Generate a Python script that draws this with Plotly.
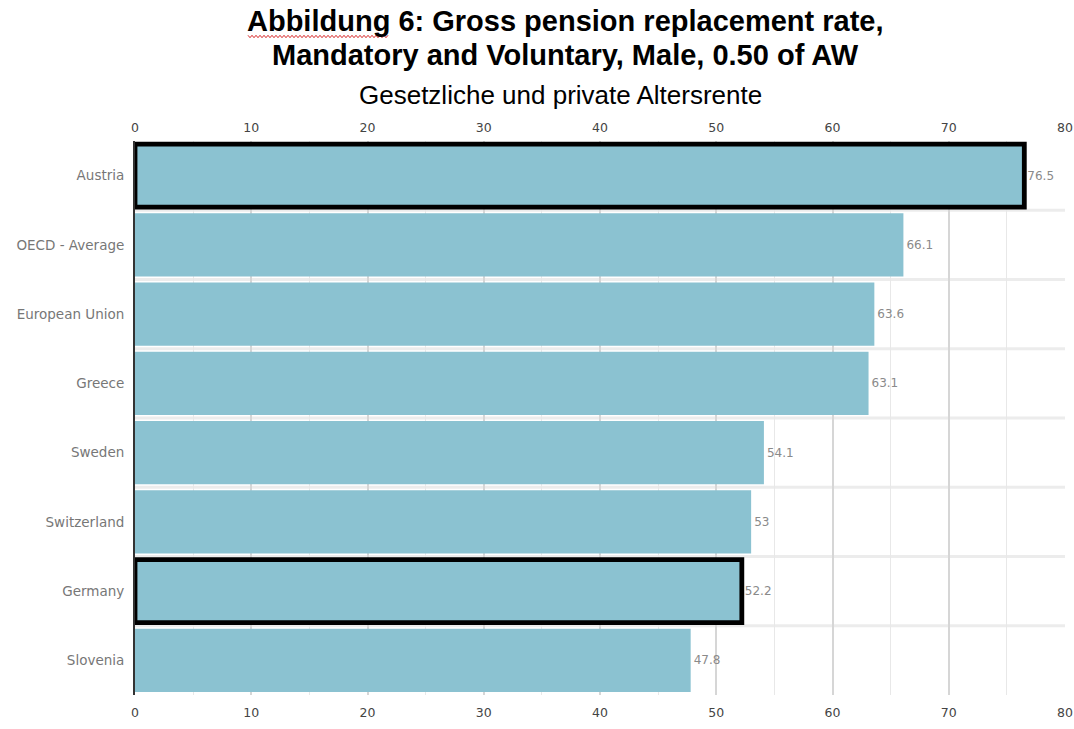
import plotly.graph_objects as go

countries = ["Austria", "OECD - Average", "European Union", "Greece",
             "Sweden", "Switzerland", "Germany", "Slovenia"]
rates = [76.5, 66.1, 63.6, 63.1, 54.1, 53.0, 52.2, 47.8]
highlighted = ["Austria", "Germany"]
x_ticks = [0, 10, 20, 30, 40, 50, 60, 70, 80]

title_line1 = "Abbildung 6: Gross pension replacement rate,"
title_line2 = "Mandatory and Voluntary, Male, 0.50 of AW"
subtitle = "Gesetzliche und private Altersrente"

W, H = 1074, 729
ML, MR, MT, MB = 135, 9, 141, 34
BAR_COLOR = "rgb(139,194,209)"

positions = list(range(len(countries)))
outline = [4.8 if c in highlighted else 0 for c in countries]
labels = [f"{v:g}" for v in rates]


def px_to_paper(px, py):
    """Convert page pixel coordinates to paper coordinates."""
    return ((px - ML) / (W - ML - MR), 1 + (MT - py) / (H - MT - MB))


fig = go.Figure()
fig.add_trace(go.Bar(
    x=rates, y=positions, orientation="h",
    marker=dict(color=BAR_COLOR, line=dict(color="black", width=outline)),
    text=labels, textposition="outside", cliponaxis=False,
    textfont=dict(family="DejaVu Sans", size=12, color="#8a8a8a"),
    hoverinfo="skip",
))
# invisible trace so the top axis is drawn with the same scale
fig.add_trace(go.Scatter(x=[0, 80], y=[0, 0], xaxis="x2", mode="markers",
                         marker=dict(opacity=0), hoverinfo="skip", showlegend=False))

# light separators between the category bands
for k in range(len(countries) - 1):
    fig.add_shape(type="line", xref="paper", x0=0, x1=1, yref="y",
                  y0=k + 0.5, y1=k + 0.5, layer="below",
                  line=dict(color="#ececec", width=3))

# wavy red underline beneath the word "Abbildung"
pts = []
for i, px in enumerate(range(248, 390, 2)):
    py = 36.5 + (1 if i % 2 else -1) * 1.2
    pts.append(px_to_paper(px, py))
path = "M " + " L ".join(f"{x:.5f},{y:.5f}" for x, y in pts)
fig.add_shape(type="path", path=path, xref="paper", yref="paper",
              line=dict(color="rgb(215,40,40)", width=1))

axis_common = dict(
    range=[0, 80], tickvals=x_ticks, showgrid=True,
    gridcolor="#d6d6d6", gridwidth=1.5, zeroline=False,
    tickfont=dict(family="DejaVu Sans", size=12.5, color="#444"),
    minor=dict(dtick=5, tick0=0, showgrid=True, gridcolor="#e8e8e8", gridwidth=1),
)

tx, _ = px_to_paper(565, 0)
sx, _ = px_to_paper(560, 0)

fig.update_layout(
    width=W, height=H,
    margin=dict(l=ML, r=MR, t=MT, b=MB, autoexpand=False),
    paper_bgcolor="white", plot_bgcolor="white",
    showlegend=False, bargap=0.09,
    xaxis=dict(**axis_common, side="bottom", ticklabelstandoff=8),
    xaxis2=dict(**axis_common, overlaying="x", side="top", matches="x",
                ticklabelstandoff=6),
    yaxis=dict(tickvals=positions, ticktext=countries, autorange="reversed",
               showgrid=False, zeroline=False,
               showline=True, linecolor="#333", linewidth=2,
               ticks="", ticklabelstandoff=6,
               tickfont=dict(family="DejaVu Sans", size=13.5, color="#777")),
    annotations=[
        dict(text=f"<b>{title_line1}</b>", xref="paper", yref="paper",
             x=tx, y=1.0, yanchor="middle", yshift=MT - 21, showarrow=False,
             font=dict(family="Liberation Sans", size=29, color="black")),
        dict(text=f"<b>{title_line2}</b>", xref="paper", yref="paper",
             x=tx, y=1.0, yanchor="middle", yshift=MT - 55, showarrow=False,
             font=dict(family="Liberation Sans", size=29, color="black")),
        dict(text=subtitle, xref="paper", yref="paper", x=sx, y=1.0,
             yanchor="middle", yshift=MT - 95, showarrow=False,
             font=dict(family="Liberation Sans", size=26, color="black")),
    ],
)

fig.write_html("out.html")
